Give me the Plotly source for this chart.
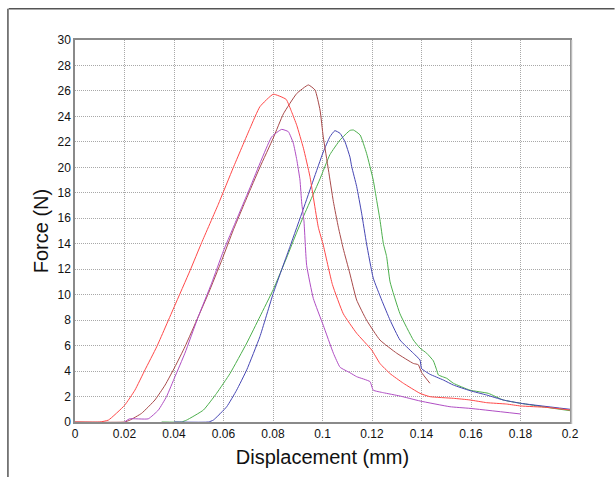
import plotly.graph_objects as go

x_ticks = [0, 0.02, 0.04, 0.06, 0.08, 0.1, 0.12, 0.14, 0.16, 0.18, 0.2]
x_tick_labels = ["0", "0.02", "0.04", "0.06", "0.08", "0.1", "0.12", "0.14", "0.16", "0.18", "0.2"]
y_ticks = list(range(0, 31, 2))

red_x = [0, 0.01, 0.0135, 0.02, 0.0242, 0.0283, 0.033, 0.0401, 0.0465, 0.0512, 0.0579, 0.064, 0.0707, 0.0747,
         0.0801, 0.0853, 0.0875, 0.0896, 0.0923, 0.0949, 0.0983, 0.1003, 0.1040, 0.1084, 0.1138, 0.1199, 0.1232,
         0.1273, 0.1327, 0.1394, 0.1434, 0.1529, 0.1596, 0.1663, 0.1744, 0.18, 0.1906, 0.2]
red_y = [0, 0, 0.15, 1.3, 2.5, 4.1, 5.9, 9.05, 11.9, 14.1, 17.1, 20.0, 23.06, 24.76,
         25.74, 25.34, 24.37, 23.3, 21.5, 19.3, 15.3, 13.9, 10.8, 8.5, 6.97, 5.65, 4.6,
         3.8, 3.04, 2.25, 1.99, 1.86, 1.73, 1.52, 1.41, 1.26, 1.15, 0.94]

brown_x = [0, 0.02, 0.0222, 0.0269, 0.0323, 0.0364, 0.0404, 0.0444, 0.0498, 0.0539, 0.0593, 0.064, 0.0707,
           0.0747, 0.0801, 0.0842, 0.0896, 0.0943, 0.097, 0.099, 0.1003, 0.1024, 0.1044, 0.1064, 0.1084, 0.111,
           0.1138, 0.1178, 0.1232, 0.13, 0.1367, 0.1387, 0.14, 0.1434]
brown_y = [0, 0, 0.15, 0.68, 1.73, 2.9, 4.34, 5.9, 8.27, 10.1, 12.7, 15.1, 18.2,
           20.0, 22.3, 24.2, 25.8, 26.47, 26.07, 24.5, 22.4, 19.8, 17.3, 15.3, 13.6, 11.7,
           9.58, 8.0, 6.44, 5.4, 4.6, 4.5, 3.9, 3.04]

purple_x = [0.02, 0.022, 0.0296, 0.0337, 0.037, 0.0404, 0.0444, 0.0498, 0.0552, 0.0599, 0.064, 0.0707,
            0.0795, 0.0835, 0.0862, 0.0882, 0.0896, 0.0909, 0.0916, 0.0925, 0.0936, 0.0963, 0.1003, 0.1044,
            0.1071, 0.1111, 0.1138, 0.1192, 0.1205, 0.1246, 0.1313, 0.1394, 0.1515, 0.1596, 0.18]
purple_y = [0, 0.25, 0.25, 0.94, 2.0, 3.56, 5.4, 8.27, 10.9, 13.4, 15.3, 18.4,
            22.4, 22.98, 22.8, 21.9, 20.6, 19.0, 17.2, 15.8, 12.3, 9.7, 7.6, 5.4,
            4.3, 3.87, 3.56, 3.17, 2.5, 2.3, 2.04, 1.65, 1.2, 1.07, 0.63]

green_x = [0.035, 0.043, 0.0451, 0.0519, 0.0572, 0.0626, 0.0694, 0.0747, 0.0801, 0.0855, 0.0896, 0.0922,
           0.0963, 0.099, 0.103, 0.1071, 0.1111, 0.1125, 0.1152, 0.1178, 0.1205, 0.1219, 0.1232, 0.1246, 0.1259,
           0.1273, 0.1313, 0.1367, 0.1394, 0.1421, 0.1448, 0.1461, 0.1468, 0.1502, 0.1529, 0.1596, 0.167,
           0.173, 0.18, 0.1906, 0.2]
green_y = [0, 0, 0.15, 0.94, 2.25, 3.8, 6.2, 8.27, 10.4, 12.9, 14.9, 16.1,
           17.9, 19.1, 21.0, 22.15, 22.9, 22.93, 22.54, 21.1, 19.0, 17.4, 15.9, 14.0, 13.0,
           11.0, 8.5, 6.44, 5.8, 5.4, 4.8, 4.1, 3.7, 3.43, 3.04, 2.5, 2.25,
           1.73, 1.47, 1.15, 0.89]

blue_x = [0.04, 0.0539, 0.0559, 0.0613, 0.0653, 0.0694, 0.0747, 0.0801, 0.0869, 0.0922, 0.0963, 0.1003,
          0.103, 0.105, 0.1071, 0.1091, 0.1111, 0.1118, 0.1138, 0.1158, 0.1178, 0.1205, 0.1239, 0.1273,
          0.1313, 0.1367, 0.1394, 0.14, 0.1434, 0.1488, 0.1529, 0.1596, 0.1663, 0.173, 0.18, 0.2]
blue_y = [0, 0, 0.15, 1.2, 2.5, 4.1, 6.7, 10.1, 13.8, 16.7, 19.0, 21.2,
          22.4, 22.88, 22.67, 22.0, 20.8, 20.05, 18.5, 16.4, 14.0, 11.3, 9.58, 8.0,
          6.44, 5.4, 4.87, 4.2, 3.75, 3.3, 2.9, 2.46, 2.12, 1.73, 1.47, 1.0]

series = [
    ("green", green_x, green_y, "#4caf4c"),
    ("blue", blue_x, blue_y, "#4646b4"),
    ("brown", brown_x, brown_y, "#a84a4a"),
    ("red", red_x, red_y, "#ff4848"),
    ("purple", purple_x, purple_y, "#b04ec4"),
]

fig = go.Figure()
for name, xs, ys, col in series:
    fig.add_trace(go.Scatter(x=xs, y=ys, mode="lines", name=name,
                             line=dict(color=col, width=1, shape="spline", smoothing=0.4),
                             showlegend=False))

font_family = "Liberation Sans, Arial, Helvetica"
axis_common = dict(showgrid=True, gridcolor="#a8a8a8", griddash="1px,1px", gridwidth=1,
                   zeroline=False, showline=True, linecolor="#8a8a8a", linewidth=1.5,
                   mirror=True, ticks="", tickfont=dict(family=font_family, size=12, color="#111"))

fig.update_layout(
    width=615, height=477,
    margin=dict(l=75, r=45, t=40, b=55),
    paper_bgcolor="white", plot_bgcolor="white",
    xaxis=dict(range=[0, 0.2], tickvals=x_ticks, ticktext=x_tick_labels,
               title=dict(text="Displacement (mm)", font=dict(family=font_family, size=20, color="#111"),
                          standoff=10),
               **axis_common),
    yaxis=dict(range=[0, 30], tickvals=y_ticks,
               title=dict(text="Force (N)", font=dict(family=font_family, size=20, color="#111"),
                          standoff=3),
               **axis_common),
    shapes=[
        dict(type="line", xref="paper", yref="paper", x0=-0.134, x1=1.09, y0=1.082, y1=1.082,
             line=dict(color="#555", width=1.5)),
        dict(type="line", xref="paper", yref="paper", x0=-0.1355, x1=-0.1355, y0=1.082, y1=-0.15,
             line=dict(color="#555", width=1.5)),
        dict(type="line", xref="paper", yref="paper", x0=1.003, x1=1.003, y0=1.0, y1=-0.005,
             line=dict(color="#bbb", width=1.5)),
    ],
)

fig.write_html("out.html")
